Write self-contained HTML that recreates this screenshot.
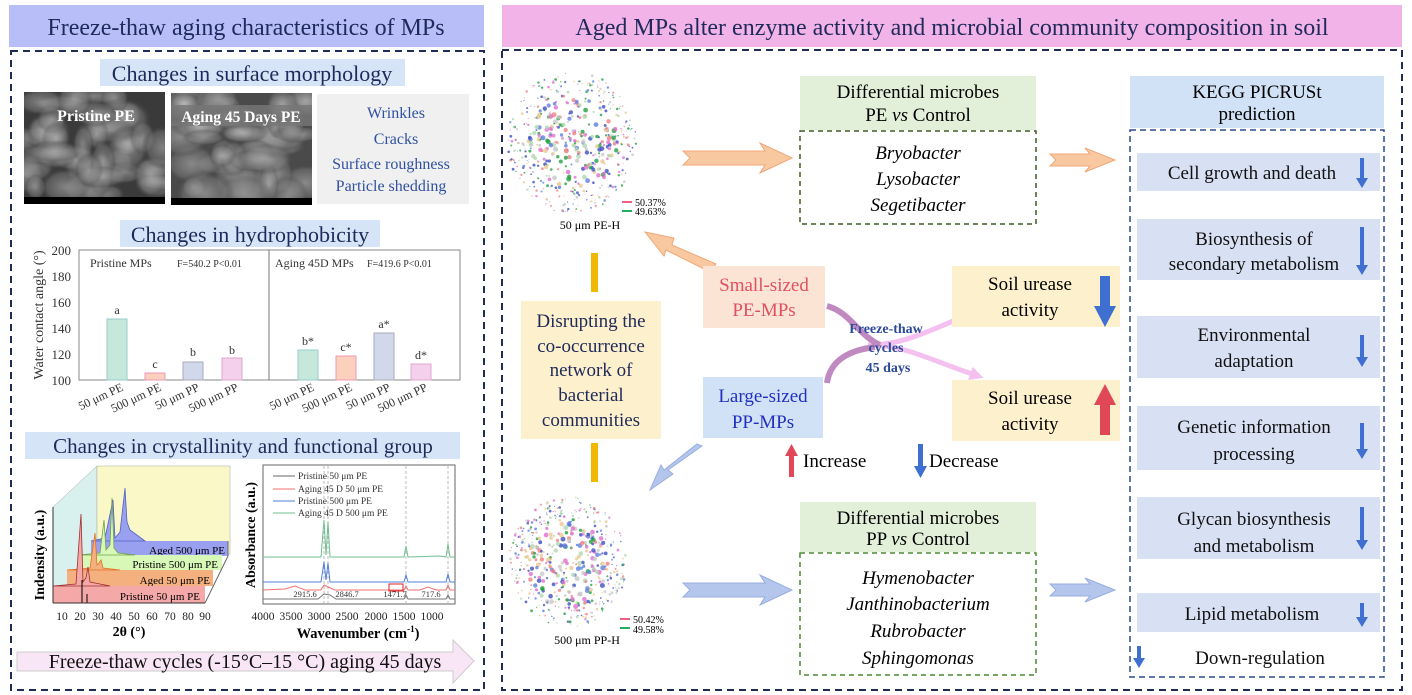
<!DOCTYPE html>
<html><head><meta charset="utf-8"><style>
html,body{margin:0;padding:0;background:#fff;font-family:"Liberation Serif",serif;}
svg{display:block;}
text{font-family:"Liberation Serif",serif;}
</style></head><body>
<svg id="s" width="1412" height="695" viewBox="0 0 1412 695" xmlns="http://www.w3.org/2000/svg" font-family="Liberation Serif, serif">
<defs>
<radialGradient id="semg" cx="50%" cy="50%" r="50%"><stop offset="0" stop-color="#c8c8c8"/><stop offset="0.7" stop-color="#777"/><stop offset="1" stop-color="#333" stop-opacity="0"/></radialGradient>
<clipPath id="c1"><rect x="24" y="92" width="141" height="112"/></clipPath>
<clipPath id="c2"><rect x="171" y="93" width="141" height="112"/></clipPath>
<marker id="ah" markerUnits="userSpaceOnUse" markerWidth="14" markerHeight="14" refX="5" refY="7" orient="auto"><path d="M0,0 L14,7 L0,14 z" fill="#f4c0f0"/></marker>
</defs>
<rect width="1412" height="695" fill="#fff"/>
<!-- LEFT PANEL -->
<rect x="9" y="5" width="475" height="42" fill="#b8bef8"/>
<text x="246" y="35" font-size="24" fill="#1f2a5a" text-anchor="middle">Freeze-thaw aging characteristics of MPs</text>
<rect x="11" y="51" width="473" height="639" fill="none" stroke="#1f2d55" stroke-width="2" stroke-dasharray="7,5"/>
<rect x="100" y="59" width="305" height="27" fill="#d6e4f8"/>
<text x="252" y="81" font-size="22" fill="#1f2a5a" text-anchor="middle">Changes in surface morphology</text>
<g clip-path="url(#c1)"><rect x="24" y="92" width="141" height="112" fill="#3a3a3a"/><g id="sem1"></g></g>
<g clip-path="url(#c2)"><rect x="171" y="93" width="141" height="112" fill="#4a4a4a"/><g id="sem2"></g></g>
<rect x="24" y="197" width="141" height="7" fill="#000"/><rect x="171" y="198" width="141" height="7" fill="#000"/>
<text x="96" y="121" font-size="16" font-weight="bold" fill="#fff" text-anchor="middle">Pristine  PE</text>
<rect x="171" y="105" width="141" height="21" fill="#777" opacity="0.8"/>
<text x="241" y="122" font-size="15.5" font-weight="bold" fill="#fff" text-anchor="middle">Aging 45 Days PE</text>
<rect x="317" y="94" width="152" height="110" fill="#f0f0f0"/>
<g font-size="16" fill="#3050a0" text-anchor="middle">
<text x="396" y="118">Wrinkles</text><text x="396" y="144">Cracks</text><text x="391" y="169">Surface roughness</text><text x="391" y="191">Particle shedding</text></g>
<rect x="120" y="220" width="260" height="27" fill="#d6e4f8"/>
<text x="250" y="242" font-size="22" fill="#1f2a5a" text-anchor="middle">Changes in hydrophobicity</text>
<!-- bar chart -->
<g font-size="13" fill="#333">
<rect x="79" y="250" width="381" height="130" fill="none" stroke="#888"/>
<line x1="269" y1="250" x2="269" y2="380" stroke="#777"/>
<g text-anchor="end"><text x="71" y="255">200</text><text x="71" y="281">180</text><text x="71" y="307">160</text><text x="71" y="333">140</text><text x="71" y="359">120</text><text x="71" y="385">100</text></g>
<text transform="translate(43,315) rotate(-90)" font-size="14" text-anchor="middle">Water contact angle (°)</text>
<text x="90" y="267" font-size="12">Pristine MPs</text><text x="177" y="267" font-size="10">F=540.2    P&lt;0.01</text>
<text x="275" y="267" font-size="12">Aging 45D MPs</text><text x="367" y="267" font-size="10">F=419.6     P&lt;0.01</text>
<rect x="107" y="319" width="20" height="61" fill="#c5e8da" stroke="#9cc"/>
<rect x="145" y="373" width="20" height="7" fill="#fbd0bc" stroke="#e9b"/>
<rect x="183" y="362" width="20" height="18" fill="#d2d8ec" stroke="#aab"/>
<rect x="222" y="358" width="20" height="22" fill="#f4d0ec" stroke="#dac"/>
<rect x="298" y="350" width="20" height="30" fill="#c5e8da" stroke="#9cc"/>
<rect x="336" y="356" width="20" height="24" fill="#fbd0bc" stroke="#e9b"/>
<rect x="374" y="333" width="20" height="47" fill="#d2d8ec" stroke="#aab"/>
<rect x="411" y="364" width="20" height="16" fill="#f4d0ec" stroke="#dac"/>
<g text-anchor="middle" font-size="12"><text x="117" y="314">a</text><text x="155" y="368">c</text><text x="193" y="356">b</text><text x="232" y="354">b</text>
<text x="308" y="345">b*</text><text x="346" y="351">c*</text><text x="384" y="328">a*</text><text x="421" y="359">d*</text></g>
<g font-size="12" text-anchor="end">
<text transform="translate(124,390) rotate(-25)">50 μm PE</text><text transform="translate(162,390) rotate(-25)">500 μm PE</text>
<text transform="translate(200,390) rotate(-25)">50 μm PP</text><text transform="translate(239,390) rotate(-25)">500 μm PP</text>
<text transform="translate(315,390) rotate(-25)">50 μm PE</text><text transform="translate(353,390) rotate(-25)">500 μm PE</text>
<text transform="translate(391,390) rotate(-25)">50 μm PP</text><text transform="translate(428,390) rotate(-25)">500 μm PP</text></g>
</g>
<rect x="25" y="432" width="435" height="27" fill="#d6e4f8"/>
<text x="243" y="453" font-size="21" fill="#1f2a5a" text-anchor="middle">Changes in crystallinity and functional group</text>
<!-- XRD -->
<polygon points="53,507 97,466 97,560 53,603" fill="#d8f0ee" stroke="#aaa" stroke-width="0.5"/>
<rect x="97" y="466" width="133" height="88" fill="#fbf8c8" stroke="#aaa" stroke-width="0.5"/>
<rect x="91" y="541" width="137" height="15" fill="#9aa0f0"/>
<path d="M91,541 L105,538 L113,500 L115,538 L120,532 L125,488 L127,522 L130,530 L145,541 Z" fill="#9aa0f0" stroke="#5060c0" stroke-width="0.8"/>
<text x="225" y="554" font-size="11" text-anchor="end">Aged 500 μm PE</text>
<rect x="79" y="555" width="143" height="15" fill="#d8f8b8"/>
<path d="M79,555 L100,553 L104,520 L106,550 L110,545 L112,498 L114,548 L118,553 L135,555 Z" fill="#d8f8b8" stroke="#70a050" stroke-width="0.8"/>
<text x="218" y="568" font-size="11" text-anchor="end">Pristine 500 μm PE</text>
<rect x="67" y="570" width="146" height="16" fill="#f5b080"/>
<path d="M67,570 L90,568 L95,533 L97,565 L99,563 L101,560 L103,568 L120,570 Z" fill="#f5b080" stroke="#e07020" stroke-width="0.8"/>
<text x="210" y="584" font-size="11" text-anchor="end">Aged 50 μm PE</text>
<rect x="53" y="586" width="152" height="17" fill="#f4a8a8"/>
<path d="M53,586 L76,584 L81,514 L83,582 L86,578 L88,567 L90,582 L110,586 Z" fill="#f4a8a8" stroke="#a03030" stroke-width="0.8"/>
<text x="200" y="600" font-size="11" text-anchor="end">Pristine 50 μm PE</text>
<line x1="82" y1="580" x2="82" y2="603" stroke="#000"/><line x1="87" y1="594" x2="87" y2="603" stroke="#000"/>
<polyline points="205,603 228,556 228,541" fill="none" stroke="#666"/>
<line x1="53" y1="603" x2="205" y2="603" stroke="#333"/><line x1="53" y1="507" x2="53" y2="603" stroke="#333"/>
<g font-size="11.5" text-anchor="middle" fill="#222"><text x="62" y="620">10</text><text x="80" y="620">20</text><text x="98" y="620">30</text><text x="116" y="620">40</text><text x="134" y="620">50</text><text x="152" y="620">60</text><text x="170" y="620">70</text><text x="188" y="620">80</text><text x="205" y="620">90</text></g>
<text x="129" y="636" font-size="14" font-weight="bold" text-anchor="middle">2θ (°)</text>
<text transform="translate(44,555) rotate(-90)" font-size="14" font-weight="bold" text-anchor="middle">Indensity (a.u.)</text>
<!-- FTIR -->
<rect x="263" y="465" width="192" height="139" fill="#fff" stroke="#666"/>
<g stroke="#bbb" stroke-dasharray="3,2"><line x1="324" y1="466" x2="324" y2="603"/><line x1="328" y1="466" x2="328" y2="603"/><line x1="406" y1="466" x2="406" y2="603"/><line x1="448" y1="466" x2="448" y2="603"/></g>
<g font-size="9.5" fill="#333">
<line x1="273" y1="476" x2="295" y2="476" stroke="#666"/><text x="298" y="479">Pristine 50 μm PE</text>
<line x1="273" y1="489" x2="295" y2="489" stroke="#f07070"/><text x="298" y="492">Aging 45 D 50 μm PE</text>
<line x1="273" y1="501" x2="295" y2="501" stroke="#5080e0"/><text x="298" y="504">Pristine 500 μm PE</text>
<line x1="273" y1="513" x2="295" y2="513" stroke="#70c090"/><text x="298" y="516">Aging 45 D 500 μm PE</text></g>
<path d="M263,557 L321,557 L324,520 L326,555 L328,522 L330,557 L404,557 L406,546 L408,557 L440,556 L446,557 L448,544 L450,557 L455,557" fill="none" stroke="#70c090"/>
<path d="M263,582 L321,582 L324,562 L326,580 L328,563 L330,582 L404,582 L406,575 L408,582 L446,582 L448,574 L450,582 L455,582" fill="none" stroke="#5080e0"/>
<path d="M263,590 L285,589 L295,586 L305,590 L321,590 L324,585 L328,587 L335,590 L404,590 L406,586 L408,590 L420,590 L428,587 L436,590 L446,590 L448,585 L450,590 L455,590" fill="none" stroke="#f07070"/>
<path d="M263,599 L318,599 L324,594 L330,595 L336,599 L404,599 L406,595 L408,599 L446,599 L448,595 L450,599 L455,599" fill="none" stroke="#777"/>
<rect x="389" y="584" width="14" height="7" fill="none" stroke="#e02020"/>
<g font-size="8.5" fill="#333" text-anchor="middle"><text x="305" y="597">2915.6</text><text x="347" y="597">2846.7</text><text x="395" y="597">1471.7</text><text x="431" y="597">717.6</text></g>
<g font-size="11.5" text-anchor="middle" fill="#222"><text x="263" y="620">4000</text><text x="291" y="620">3500</text><text x="319" y="620">3000</text><text x="347" y="620">2500</text><text x="376" y="620">2000</text><text x="404" y="620">1500</text><text x="432" y="620">1000</text></g>
<text x="358" y="638" font-size="14.5" font-weight="bold" text-anchor="middle">Wavenumber (cm<tspan font-size="9" dy="-6">-1</tspan><tspan dy="6">)</tspan></text>
<text transform="translate(255,535) rotate(-90)" font-size="14" font-weight="bold" text-anchor="middle">Absorbance (a.u.)</text>
<!-- bottom arrow -->
<polygon points="17,652 453,652 453,640 474,661 453,683 453,671 17,671" fill="#f8e6f6" stroke="#ccc"/>
<text x="245" y="668" font-size="20" fill="#111" text-anchor="middle">Freeze-thaw cycles (-15°C–15 °C) aging 45 days</text>

<!-- RIGHT PANEL -->
<rect x="502" y="5" width="900" height="42" fill="#f2b4e8"/>
<text x="952" y="35" font-size="24" fill="#1f2a5a" text-anchor="middle">Aged MPs alter enzyme activity and microbial community composition in soil</text>
<rect x="502" y="50" width="900" height="640" fill="none" stroke="#1f2d55" stroke-width="2" stroke-dasharray="7,5"/>
<g id="net1"></g><g id="net2"></g>
<line x1="622" y1="202" x2="632" y2="202" stroke="#f06080" stroke-width="2"/><line x1="622" y1="211" x2="632" y2="211" stroke="#20b060" stroke-width="2"/>
<text x="635" y="206" font-size="10">50.37%</text><text x="635" y="215" font-size="10">49.63%</text>
<text x="590" y="229" font-size="12" text-anchor="middle">50 μm PE-H</text>
<line x1="620" y1="619" x2="630" y2="619" stroke="#f06080" stroke-width="2"/><line x1="620" y1="628" x2="630" y2="628" stroke="#20b060" stroke-width="2"/>
<text x="633" y="623" font-size="10">50.42%</text><text x="633" y="633" font-size="10">49.58%</text>
<text x="587" y="644" font-size="12" text-anchor="middle">500 μm PP-H</text>
<!-- arrows -->
<polygon points="683,151 765,151 760,143 792,158 760,173 765,165 683,165 690,158" fill="#f8c8a0" stroke="#f0a878"/>
<polygon points="1050,154 1090,154 1085,148 1115,160 1085,172 1090,166 1050,166 1056,160" fill="#f8c8a0" stroke="#f0a878"/>
<polygon points="683,583 765,583 760,575 792,590 760,605 765,597 683,597 690,590" fill="#b4c6ec" stroke="#98aee0"/>
<polygon points="1050,584 1090,584 1085,578 1115,590 1085,602 1090,596 1050,596 1056,590" fill="#b4c6ec" stroke="#98aee0"/>
<polygon points="716,264 672,245 674,238 645,232 664,256 666,250 710,272" fill="#f8c8a0" stroke="#f0a878"/>
<polygon points="702,446 668,470 673,474 650,490 661,465 664,470 697,444" fill="#b4c6ec" stroke="#98aee0"/>
<!-- microbe boxes -->
<rect x="800" y="76" width="236" height="54" fill="#e2efd9"/>
<text x="918" y="98" font-size="19" text-anchor="middle">Differential microbes</text>
<text x="918" y="121" font-size="19" text-anchor="middle">PE <tspan font-style="italic">vs</tspan> Control</text>
<rect x="800" y="131" width="236" height="93" fill="none" stroke="#3e5a20" stroke-width="1.5" stroke-dasharray="5,4"/>
<g font-size="19" font-style="italic" text-anchor="middle"><text x="918" y="159">Bryobacter</text><text x="918" y="185">Lysobacter</text><text x="918" y="211">Segetibacter</text></g>
<rect x="800" y="502" width="236" height="50" fill="#e2efd9"/>
<text x="918" y="524" font-size="19" text-anchor="middle">Differential microbes</text>
<text x="918" y="545" font-size="19" text-anchor="middle">PP <tspan font-style="italic">vs</tspan> Control</text>
<rect x="800" y="553" width="236" height="122" fill="none" stroke="#4a8a30" stroke-width="1.5" stroke-dasharray="5,4"/>
<g font-size="19" font-style="italic" text-anchor="middle"><text x="918" y="584">Hymenobacter</text><text x="918" y="610">Janthinobacterium</text><text x="918" y="637">Rubrobacter</text><text x="918" y="664">Sphingomonas</text></g>
<!-- KEGG -->
<rect x="1130" y="76" width="254" height="52" fill="#d2e2f6"/>
<text x="1257" y="98" font-size="19" text-anchor="middle">KEGG PICRUSt</text>
<text x="1257" y="120" font-size="19" text-anchor="middle">prediction</text>
<rect x="1130" y="130" width="254" height="547" fill="none" stroke="#2c4a90" stroke-width="1.5" stroke-dasharray="6,4"/>
<g fill="#d8e0f4"><rect x="1137" y="153" width="243" height="38"/><rect x="1137" y="219" width="243" height="61"/><rect x="1137" y="316" width="243" height="62"/><rect x="1137" y="406" width="243" height="64"/><rect x="1137" y="497" width="243" height="62"/><rect x="1137" y="593" width="243" height="39"/></g>
<g font-size="19" text-anchor="middle" fill="#111">
<text x="1252" y="179">Cell growth and death</text>
<text x="1254" y="245">Biosynthesis of</text><text x="1254" y="270">secondary metabolism</text>
<text x="1254" y="341">Environmental</text><text x="1254" y="367">adaptation</text>
<text x="1254" y="433">Genetic information</text><text x="1254" y="460">processing</text>
<text x="1254" y="525">Glycan biosynthesis</text><text x="1254" y="552">and metabolism</text>
<text x="1252" y="620">Lipid metabolism</text>
<text x="1260" y="664">Down-regulation</text></g>
<g fill="#3f6fd0" id="downs"></g>
<!-- middle -->
<rect x="591" y="253" width="7" height="39" fill="#f0b800"/><rect x="591" y="443" width="7" height="39" fill="#f0b800"/>
<rect x="521" y="301" width="140" height="138" fill="#fdf0cc"/>
<g font-size="19" fill="#1f2a5a" text-anchor="middle"><text x="591" y="327">Disrupting  the</text><text x="591" y="352">co-occurrence</text><text x="591" y="376">network of</text><text x="591" y="401">bacterial</text><text x="591" y="426">communities</text></g>
<rect x="703" y="266" width="122" height="62" fill="#fbe4d4"/>
<text x="764" y="291" font-size="19" fill="#e05060" text-anchor="middle">Small-sized</text><text x="764" y="316" font-size="19" fill="#e05060" text-anchor="middle">PE-MPs</text>
<rect x="703" y="377" width="120" height="61" fill="#d2e2f6"/>
<text x="763" y="402" font-size="19" fill="#2030c0" text-anchor="middle">Large-sized</text><text x="763" y="428" font-size="19" fill="#2030c0" text-anchor="middle">PP-MPs</text>
<path d="M868,345 C905,345 930,330 975,312" fill="none" stroke="#f4c0f0" stroke-width="5" marker-end="url(#ah)"/>
<path d="M868,345 C905,345 930,360 975,375" fill="none" stroke="#f4c0f0" stroke-width="5" marker-end="url(#ah)"/>
<path d="M827,306 C850,312 858,335 880,345" fill="none" stroke="#c08ac0" stroke-width="6"/>
<path d="M827,383 C830,360 850,350 875,347" fill="none" stroke="#c08ac0" stroke-width="6"/>
<g font-size="14" font-weight="bold" fill="#2c4a9a" text-anchor="middle"><text x="886" y="333">Freeze-thaw</text><text x="886" y="352">cycles</text><text x="888" y="372">45 days</text></g>
<rect x="952" y="266" width="168" height="61" fill="#fdf0cc"/>
<text x="1030" y="290" font-size="19" text-anchor="middle">Soil urease</text><text x="1030" y="316" font-size="19" text-anchor="middle">activity</text>
<rect x="952" y="380" width="168" height="61" fill="#fdf0cc"/>
<text x="1030" y="404" font-size="19" text-anchor="middle">Soil urease</text><text x="1030" y="430" font-size="19" text-anchor="middle">activity</text>
<polygon points="1100,276 1110,276 1110,306 1116,306 1105,327 1094,306 1100,306" fill="#3f6fd0"/>
<polygon points="1100,435 1110,435 1110,405 1116,405 1105,384 1094,405 1100,405" fill="#e04858"/>
<polygon points="789,477 794,477 794,456 798,456 791.5,444 785,456 789,456" fill="#e04858"/>
<text x="803" y="467" font-size="19">Increase</text>
<polygon points="918,444 923,444 923,466 927,466 920.5,478 914,466 918,466" fill="#3f6fd0"/>
<text x="929" y="467" font-size="19">Decrease</text>
</svg>
<script>
(function(){
var NS="http://www.w3.org/2000/svg";
function el(p,t,a){var e=document.createElementNS(NS,t);for(var k in a)e.setAttribute(k,a[k]);p.appendChild(e);return e;}
var seed=7;function r(){seed=(seed*9301+49297)%233280;return seed/233280;}
var cols=["#4050c0","#20a040","#e070d0","#f08080","#c8c8c8","#e8c890","#6080e0","#b0d8b0"];
function net(id,cx,cy,R){var g=document.getElementById(id);
for(var i=0;i<520;i++){var a=r()*6.283,d=Math.sqrt(r())*R;var x=cx+Math.cos(a)*d*0.95,y=cy+Math.sin(a)*d*1.05;
var s=d<R*0.7?(0.9+r()*1.6):(0.5+r()*0.9);el(g,"circle",{cx:x.toFixed(1),cy:y.toFixed(1),r:s.toFixed(1),fill:cols[Math.floor(r()*cols.length)],opacity:0.8});}}
net("net1",572,142,68);net("net2",568,562,62);
function sem(id,x0,y0,w,h){var g=document.getElementById(id);
for(var i=0;i<45;i++){el(g,"ellipse",{cx:x0+r()*w,cy:y0+r()*(h-8),rx:10+r()*22,ry:8+r()*16,fill:"url(#semg)",opacity:0.5});}}
sem("sem1",24,92,141,112);sem("sem2",171,93,141,112);
var dg=document.getElementById("downs");
[[153,191],[222,278],[330,370],[418,462],[502,553],[598,630]].forEach(function(p){var x=1362,a=p[0]+5,b=p[1]-3;
el(dg,"polygon",{points:(x-2)+","+a+" "+(x+2)+","+a+" "+(x+2)+","+(b-10)+" "+(x+6)+","+(b-10)+" "+x+","+b+" "+(x-6)+","+(b-10)+" "+(x-2)+","+(b-10)});});
el(dg,"polygon",{points:"1137,646 1141,646 1141,658 1145,658 1139,668 1133,658 1137,658"});
})();
</script>
</body></html>
